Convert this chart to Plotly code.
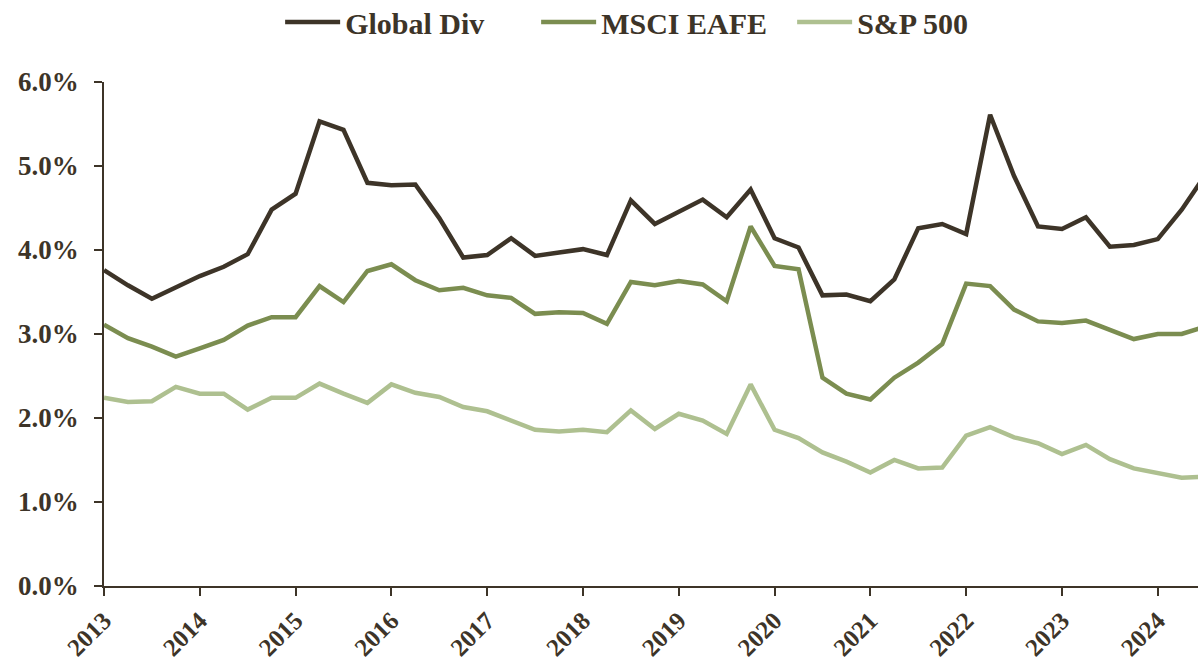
import plotly.graph_objects as go

quarters = [2013 + 0.25 * i for i in range(47)]

global_div = [3.76, 3.58, 3.42, 3.55, 3.69, 3.80, 3.95, 4.48, 4.67, 5.53, 5.43, 4.80,
              4.77, 4.78, 4.38, 3.91, 3.94, 4.14, 3.93, 3.97, 4.01, 3.94, 4.59, 4.31,
              4.45, 4.60, 4.39, 4.72, 4.14, 4.03, 3.46, 3.47, 3.39, 3.65, 4.26, 4.31,
              4.19, 5.61, 4.88, 4.28, 4.25, 4.39, 4.04, 4.06, 4.13, 4.48, 4.90]

msci_eafe = [3.11, 2.95, 2.85, 2.73, 2.83, 2.93, 3.10, 3.20, 3.20, 3.57, 3.38, 3.75,
             3.83, 3.64, 3.52, 3.55, 3.46, 3.43, 3.24, 3.26, 3.25, 3.12, 3.62, 3.58,
             3.63, 3.59, 3.39, 4.28, 3.81, 3.77, 2.48, 2.29, 2.22, 2.48, 2.66, 2.88,
             3.60, 3.57, 3.29, 3.15, 3.13, 3.16, 3.05, 2.94, 3.00, 3.00, 3.09]

sp500 = [2.24, 2.19, 2.20, 2.37, 2.29, 2.29, 2.10, 2.24, 2.24, 2.41, 2.29, 2.18,
         2.40, 2.30, 2.25, 2.13, 2.08, 1.97, 1.86, 1.84, 1.86, 1.83, 2.09, 1.87,
         2.05, 1.97, 1.81, 2.40, 1.86, 1.76, 1.59, 1.48, 1.35, 1.50, 1.40, 1.41,
         1.79, 1.89, 1.77, 1.70, 1.57, 1.68, 1.51, 1.40, 1.35, 1.29, 1.30]

year_ticks = list(range(2013, 2025))
year_labels = [str(y) for y in year_ticks]
y_ticks = [0, 1, 2, 3, 4, 5, 6]
y_labels = ["0.0%", "1.0%", "2.0%", "3.0%", "4.0%", "5.0%", "6.0%"]

series = [
    ("Global Div", global_div, "#3d3428"),
    ("MSCI EAFE", msci_eafe, "#7b8d50"),
    ("S&P 500", sp500, "#aec090"),
]

FONT = "Liberation Serif"
INK = "#3d3428"

fig = go.Figure()
for name, vals, color in series:
    fig.add_trace(go.Scatter(
        x=quarters, y=vals, name=name, mode="lines",
        line=dict(color=color, width=4.5),
    ))

fig.update_layout(
    width=1198, height=663,
    margin=dict(l=104, r=0, t=82, b=77, autoexpand=False),
    paper_bgcolor="white", plot_bgcolor="white",
    font=dict(family=FONT, color=INK),
    showlegend=True,
    legend=dict(
        orientation="h", x=0.512, xanchor="center", y=1.119, yanchor="middle",
        font=dict(family=FONT, size=30, color=INK, weight="bold"),
        itemwidth=55, traceorder="normal", entrywidth=186,
    ),
)

fig.update_xaxes(
    range=[2013, 2024.42],
    tickmode="array", tickvals=year_ticks, ticktext=year_labels,
    tickangle=-45,
    tickfont=dict(family=FONT, size=25, color=INK, weight="bold"),
    showline=True, linecolor=INK, linewidth=2,
    ticks="outside", ticklen=8, tickwidth=1.5, tickcolor=INK,
    showgrid=False, zeroline=False, automargin=False,
)

fig.update_yaxes(
    range=[0, 6],
    tickmode="array", tickvals=y_ticks, ticktext=y_labels,
    tickfont=dict(family=FONT, size=27, color=INK, weight="bold"),
    showline=True, linecolor=INK, linewidth=1.5,
    ticks="outside", ticklen=8, tickwidth=1.5, tickcolor=INK,
    ticklabelstandoff=10,
    showgrid=False, zeroline=False, automargin=False,
)

fig.write_html(
    "out.html",
    config={"displayModeBar": False},
    post_script="document.body.style.margin='0';document.body.style.overflow='hidden';",
)
